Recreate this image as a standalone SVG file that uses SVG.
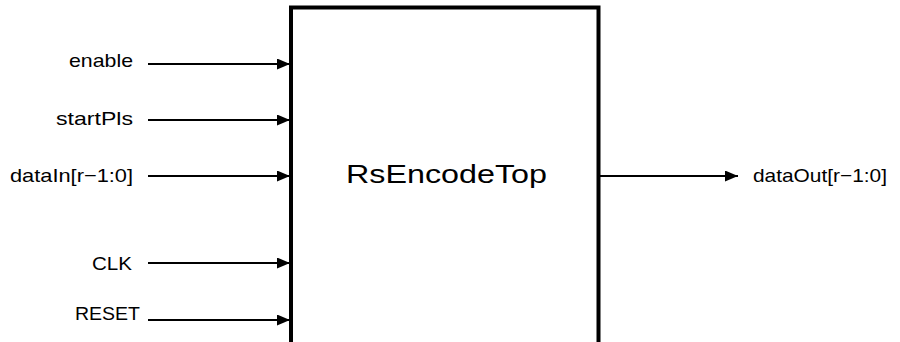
<svg xmlns="http://www.w3.org/2000/svg" width="900" height="342" viewBox="0 0 900 342">
<style>
.lbl{font-family:"Liberation Sans",Arial,sans-serif;font-size:19px;fill:#000}
.wire{stroke:#000;stroke-width:2;fill:none}
.title{font-family:"Liberation Sans",Arial,sans-serif;font-size:25px;fill:#000}
</style>
<defs>
<marker id="ah" markerWidth="13" markerHeight="11" refX="13" refY="5.5" orient="auto" markerUnits="userSpaceOnUse">
<path d="M0,0 L13,5.5 L0,11 Z" fill="#000"/>
</marker>
</defs>
<rect width="900" height="342" fill="#fff"/>
<g id="RsEncodeTop">
<path d="M291,350 V7.5 H598.5 V350" fill="none" stroke="#000" stroke-width="4"/>
<text class="title" x="346" y="183" textLength="201" lengthAdjust="spacingAndGlyphs">RsEncodeTop</text>
</g>
<g id="labels">
<text class="lbl" x="69" y="67" textLength="64" lengthAdjust="spacingAndGlyphs">enable</text>
<text class="lbl" x="56" y="125" textLength="77" lengthAdjust="spacingAndGlyphs">startPls</text>
<text class="lbl" x="10" y="182" textLength="123" lengthAdjust="spacingAndGlyphs">dataIn[r−1:0]</text>
<text class="lbl" x="92" y="270" textLength="40" lengthAdjust="spacingAndGlyphs">CLK</text>
<text class="lbl" x="75" y="320" textLength="65" lengthAdjust="spacingAndGlyphs">RESET</text>
<text class="lbl" x="753" y="182" textLength="134" lengthAdjust="spacingAndGlyphs">dataOut[r−1:0]</text>
</g>
<g id="connectors">
<line class="wire" x1="148" y1="64" x2="290" y2="64" marker-end="url(#ah)"/>
<line class="wire" x1="148" y1="120" x2="290" y2="120" marker-end="url(#ah)"/>
<line class="wire" x1="148" y1="176" x2="290" y2="176" marker-end="url(#ah)"/>
<line class="wire" x1="148" y1="263" x2="290" y2="263" marker-end="url(#ah)"/>
<line class="wire" x1="148" y1="320" x2="290" y2="320" marker-end="url(#ah)"/>
<line class="wire" x1="600" y1="176" x2="738" y2="176" marker-end="url(#ah)"/>
</g>
</svg>
